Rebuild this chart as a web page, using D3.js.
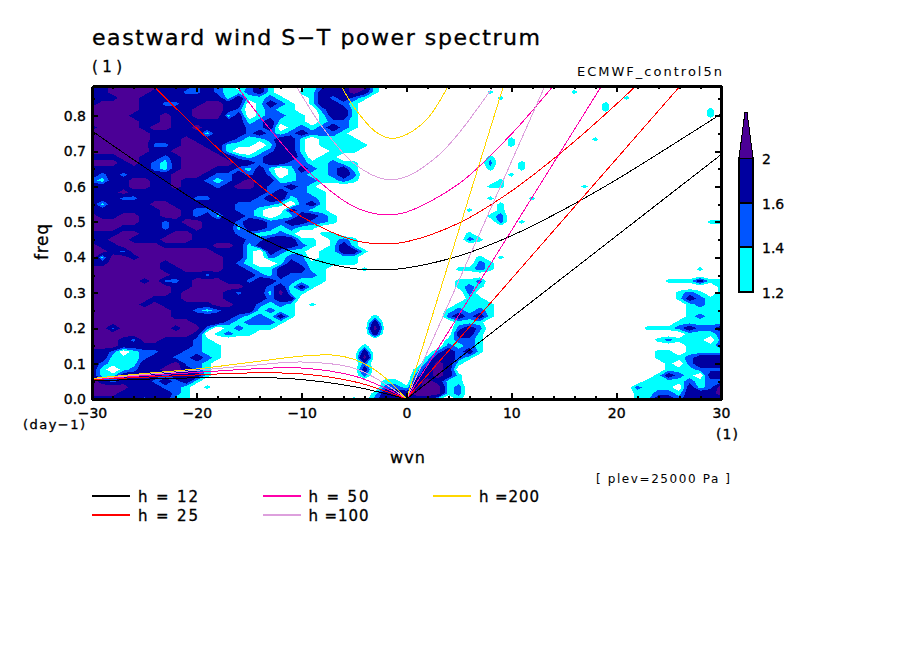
<!DOCTYPE html>
<html><head><meta charset="utf-8">
<script src="https://cdn.jsdelivr.net/npm/d3@7"></script>
<style>
html,body{margin:0;padding:0;background:#fff}
svg{display:block}
text{font-family:"DejaVu Sans",sans-serif;fill:#000}
</style></head><body>
<svg id="c" width="904" height="654"></svg>
<script>
// --- data -----------------------------------------------------------------
const wavenumbers = d3.range(-30, 31);              // grid columns
const freqStep = 0.01667;                           // grid row spacing
// one character per grid point: 0 <1.2, 1 cyan, 2 blue, 3 navy, 4 purple
// westward part, wavenumber -30 .. 0, rows run from the top (0.883) down to 0.0
const westRows = [
"3344444333232102310001233441000",
"3344443332232112310011333431000",
"3334433333333131121001323210000",
"3444433223344330132101332100000",
"4444433333444320121100233100000",
"4444333433444130122110133100000",
"4444433433333331231110122100000",
"3444434433433332230121232100000",
"4444443333313332321232221000000",
"4444443334333321123310111100000",
"4444442234433111013310111110000",
"4444443344443100123310011100000",
"3334433234444321233320110000000",
"4443432134444433233221121100000",
"3333332134443321310132123100000",
"3232333344432232320121123200000",
"2133443343321234331122112100000",
"3333443343332344322321000000000",
"3334333333333333323221100000000",
"3332233333223333233122100000000",
"3133334433333322221023100000000",
"3333333443223322100321100000000",
"4334433443231332101133210000000",
"4444433234433323322332210000000",
"4443333233433313321211000000000",
"3334433344333322112100110000000",
"3344333444333332233311012100000",
"4334444333334431333321013100000",
"4432444444443331032110113310000",
"4144344444444331021220111100000",
"3344444344444321001321111100000",
"4444444334444332113331100010000",
"4444444433323333213222100000000",
"4444434223444332332211100000000",
"4444444433444443323131000000000",
"4444444434444323314110000000000",
"4444443334444333323300000000000",
"4444434333334433212101000000000",
"4444444433212333121100000000000",
"4444444433333321213100000001000",
"4444444444333212221000000003000",
"4424444434420121110000000004000",
"4444444444301211000000000003000",
"4443244333210000000000000000000",
"4443333333211000000000000010000",
"3320122332211000000000000030000",
"3311123322321000000000000040000",
"3211133342210000000000000020000",
"3101233443210000000000000030000",
"3113333233310000000000000020000",
"4323332323100000000000000000110",
"4444333221010000000000000000221",
"4443333321000000000000000001333",
"3333323311000000000000000102333"];
// eastward part, wavenumber 1 .. 12, rows run upward from 0.0; missing characters are below 1.2
const eastNearRows = [
"33101","44412","34412","34311","23431","13430","02431","013321","0023231","0002121",
"0001221","0000331","0000232","0000111","00023231","00012121","00001111","0000011","000002","0000121",
"0000112","","00001121","00000021","000000101","","","0000021","000001","",
"000000002010","00000001200","000001001","000000001","000000010001","","000000011","000000001","0000000001","00000001001",
"00000002001","00000001","","0000000001","0000000001","","","","","",
"","000000001","00000001"];
// eastward part, wavenumber 22 .. 30, rows run upward from 0.0
const eastFarRows = [
"113323333","112213334","211103124","011112122","001321033","000111222","000102333","001112333","001101111","000001112",
"001211102","000001112","011123223","000011111","000001211","000001111","000001211","000013211","000012101","000000001",
"000111311","","0000001","","","","","","","",
"000000011","","","","","","","","","",
"","","","","","","","","000000010","000000010"];
const eastSpots = [[16,52,1],[19,50,1],[19,49,1],[21,51,1],[18,44,1],[17,36,1]]; // wavenumber, row, level
const levelValues = [1.0, 1.3, 1.5, 1.8, 2.2];      // value stood for by each character
const thresholds = [1.2, 1.4, 1.6, 2];
const bandColors = ["#00ffff", "#0055ff", "#0000a0", "#4b0096"];
const xTicks = [-30, -20, -10, 0, 10, 20, 30];
const yTicks = [0, .1, .2, .3, .4, .5, .6, .7, .8];

// dispersion curves [wavenumber, frequency]
const igH12  = [[-30,.757],[-25,.655],[-20,.558],[-15,.472],[-10,.405],[-5,.368],[-2,.365],[0,.370],[5,.404],[10,.461],[15,.535],[20,.619],[25,.711],[30,.805]];
const igH25  = [[-24,.880],[-20,.764],[-15,.628],[-10,.515],[-5,.448],[-2,.438],[0,.444],[5,.497],[10,.587],[15,.702],[20,.832],[22,.888]];
const igH50  = [[-16.2,.885],[-15,.836],[-10,.660],[-5,.543],[-2,.520],[0,.528],[5,.608],[10,.748],[13,.849],[14.2,.892]];
const igH100 = [[-10.4,.878],[-8,.767],[-5,.665],[-2,.620],[0,.628],[3,.687],[5,.751],[8,.871],[8.3,.884]];
const igH200 = [[-6.2,.883],[-5,.824],[-3,.756],[-1.5,.736],[0,.747],[2,.792],[3.8,.874],[4,.886]];
const rbH12  = [[-30,.051],[-25,.056],[-20,.060],[-15,.0615],[-10,.055],[-5,.035],[-2,.015],[0,0]];
const rbH25  = [[-30,.055],[-25,.0615],[-20,.068],[-15,.0735],[-10,.071],[-5,.049],[-2,.022],[0,0]];
const rbH50  = [[-30,.056],[-25,.066],[-20,.075],[-15,.0845],[-10,.0875],[-5,.065],[-2,.0305],[0,0]];
const rbH100 = [[-30,.057],[-25,.069],[-20,.081],[-15,.094],[-10,.1045],[-5,.087],[-2,.042],[0,0]];
const rbH200 = [[-30,.058],[-25,.072],[-20,.085],[-15,.103],[-10,.121],[-7,.124],[-5,.112],[-3,.082],[-2,.059],[0,0]];
const kvH12  = [[0,0],[30,.69]];
const kvH25  = [[0,0],[26.1,.884]];
const kvH50  = [[0,0],[18.6,.884]];
const kvH100 = [[0,0],[13.2,.884]];
const kvH200 = [[0,0],[9.25,.884]];

const legendLabels = ["h = 12", "h = 25", "h = 50", "h =100", "h =200"];
const legendColors = ["#000000", "#ff0000", "#ff00aa", "#dda0dd", "#ffd700"];
const curveSets = [[igH12, rbH12, kvH12],[igH25, rbH25, kvH25],[igH50, rbH50, kvH50],[igH100, rbH100, kvH100],[igH200, rbH200, kvH200]];

// --- drawing ---------------------------------------------------------------
const L = 92, R = 721, T = 86, B = 399;
const x = d3.scaleLinear().domain([-30, 30]).range([L, R]);
const y = d3.scaleLinear().domain([0, 0.884]).range([B, T]);
const svg = d3.select("#c").style("shape-rendering", "crispEdges");

svg.append("defs").append("clipPath").attr("id", "plot")
  .append("rect").attr("x", L).attr("y", T).attr("width", R - L).attr("height", B - T);

// field
const nx = wavenumbers.length, ny = westRows.length;
const grid = new Array(nx * ny).fill(levelValues[0]);
westRows.forEach((r, i) => {
  const k = ny - 1 - i;
  for (let c = 0; c < r.length; c++) grid[k * nx + c] = levelValues[+r[c]];
});
eastNearRows.forEach((r, k) => { for (let c = 0; c < r.length; c++) grid[k * nx + 31 + c] = levelValues[+r[c]]; });
eastFarRows.forEach((r, k) => { for (let c = 0; c < r.length; c++) grid[k * nx + 52 + c] = levelValues[+r[c]]; });
eastSpots.forEach(([s, k, v]) => { grid[k * nx + s + 30] = levelValues[v]; });
const gx = d3.scaleLinear().domain([0.5, nx - 0.5]).range([x(-30), x(30)]);
const gy = d3.scaleLinear().domain([0.5, 0.5 + (ny - 1)]).range([y(0), y((ny - 1) * freqStep)]);
const proj = d3.geoTransform({ point(px, py) { this.stream.point(gx(px), gy(py)); } });
const path = d3.geoPath(proj);
const contours = d3.contours().size([nx, ny]).smooth(true).thresholds(thresholds)(grid);
const field = svg.append("g").attr("clip-path", "url(#plot)");
field.selectAll("path").data(contours).join("path")
  .attr("d", path).attr("fill", (d, i) => bandColors[i]).attr("stroke", "none");

// curves
const line = d3.line().x(d => x(d[0])).y(d => y(d[1])).curve(d3.curveCatmullRom.alpha(0.5));
const curves = svg.append("g").attr("clip-path", "url(#plot)").attr("fill", "none");
curveSets.forEach((set, i) => set.forEach(c =>
  curves.append("path").attr("d", line(c)).attr("stroke", legendColors[i]).attr("stroke-width", 1)));

// axes
function ax(gen, tx, ty, vals, size, labels) {
  const g = svg.append("g").attr("transform", `translate(${tx},${ty})`)
    .call(gen.tickValues(vals).tickSize(size).tickSizeOuter(0).tickFormat(labels || ""));
  g.select(".domain").attr("stroke-width", 3).attr("stroke", "#000");
  g.selectAll(".tick line").attr("stroke-width", 2).attr("stroke", "#000");
  return g;
}
const xMinor = d3.range(-30, 31, 2), yMinor = d3.range(0, 0.881, 0.05);
ax(d3.axisBottom(x), 0, B, xMinor, -3);
ax(d3.axisTop(x), 0, T, xMinor, -3);
ax(d3.axisLeft(y), L, 0, yMinor, -3);
ax(d3.axisRight(y), R, 0, yMinor, -3);
const xb = ax(d3.axisBottom(x), 0, B, xTicks, -6, d => d === 0 ? "0" : (d < 0 ? "\u2212" + (-d) : d));
const yl = ax(d3.axisLeft(y), L, 0, yTicks, -6, d3.format(".1f"));
ax(d3.axisTop(x), 0, T, xTicks, -6);
ax(d3.axisRight(y), R, 0, yTicks, -6);
const heavy = s => s.attr("font-size", 14).attr("font-family", "DejaVu Sans").attr("fill", "#000").attr("stroke", "#000").attr("stroke-width", 0.35);
heavy(xb.selectAll("text").attr("y", 9).attr("dy", "0.71em"));
heavy(yl.selectAll("text").attr("x", -6));

// texts
const txt = (s, px, py, size, len, anchor) => {
  const t = svg.append("text").attr("x", px).attr("y", py).attr("font-size", size).text(s);
  if (len) t.attr("textLength", len).attr("lengthAdjust", "spacing");
  if (anchor) t.attr("text-anchor", anchor);
  return t;
};
txt("eastward wind S\u2212T power spectrum", 92, 45, 22, 448).attr("stroke", "#000").attr("stroke-width", 0.35);
txt("(1)", 92, 72, 15, 30).attr("stroke", "#000").attr("stroke-width", 0.3);
txt("ECMWF_control5n", 577, 76, 13, 145);
txt("(day\u22121)", 23, 429, 13, 62).attr("stroke", "#000").attr("stroke-width", 0.3);
txt("(1)", 716, 439, 14, 22).attr("stroke", "#000").attr("stroke-width", 0.3);
txt("wvn", 390, 463, 16, 35).attr("stroke", "#000").attr("stroke-width", 0.3);
txt("[ plev=25000 Pa ]", 596, 483, 12, 134);
svg.append("text").attr("transform", "translate(48,260) rotate(-90)").attr("font-size", 17).attr("textLength", 36)
  .attr("stroke", "#000").attr("stroke-width", 0.3).text("freq");

// legend
const legendX = d3.scalePoint().domain([0, 1, 2]).range([92, 433]);
const legendY = d3.scalePoint().domain([0, 1]).range([496, 515]);
legendLabels.forEach((s, i) => {
  const cx = legendX(Math.floor(i / 2)), cy = legendY(i % 2);
  svg.append("line").attr("x1", cx).attr("x2", cx + 38).attr("y1", cy).attr("y2", cy)
    .attr("stroke", legendColors[i]).attr("stroke-width", 2);
  txt(s, cx + 46, cy + 6, 15, 60).attr("stroke", "#000").attr("stroke-width", 0.3);
});

// colour bar
const barY = d3.scaleLinear().domain([1.2, 1.4, 1.6, 2]).range([292, 247, 203, 158]);
const barX0 = 739, barX1 = 753;
const barBands = thresholds.slice(0, 3).map((t, i) => [t, thresholds[i + 1], bandColors[i]]);
barBands.forEach(([a, b, col]) => svg.append("rect")
  .attr("x", barX0).attr("width", barX1 - barX0).attr("y", barY(b)).attr("height", barY(a) - barY(b))
  .attr("fill", col).attr("stroke", "#000").attr("stroke-width", 2));
svg.append("path").attr("d", `M${barX0},158L${(barX0 + barX1) / 2 - 1},112L${(barX0 + barX1) / 2 + 1},112L${barX1},158Z`)
  .attr("fill", bandColors[3]).attr("stroke", "#000").attr("stroke-width", 1);
thresholds.forEach(t => txt(t === 2 ? "2" : t.toFixed(1), 762, barY(t) + 6, 14).attr("stroke", "#000").attr("stroke-width", 0.3));
</script>
</body></html>
